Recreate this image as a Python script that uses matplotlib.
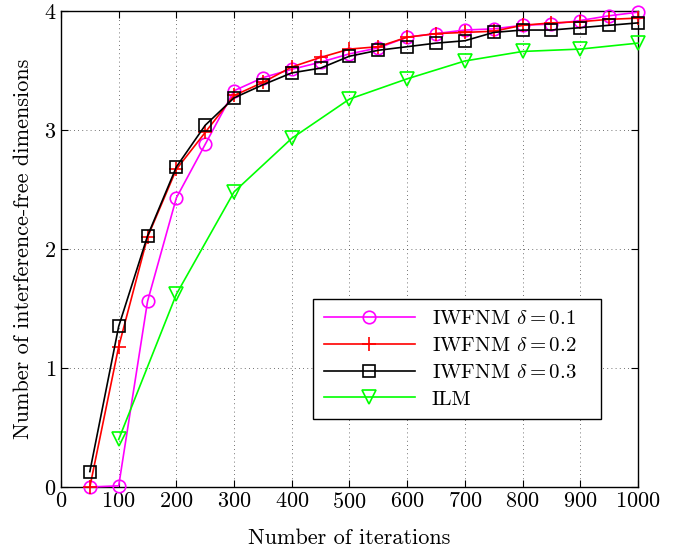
import numpy as np
import matplotlib
matplotlib.use("Agg")
import matplotlib.pyplot as plt

plt.rcParams['font.family'] = ['cmr10', 'DejaVu Serif']
plt.rcParams['mathtext.fontset'] = 'cm'
plt.rcParams['axes.formatter.use_mathtext'] = True

# data
iters = [50, 100, 150, 200, 250, 300, 350, 400, 450, 500,
         550, 600, 650, 700, 750, 800, 850, 900, 950, 1000]
iwfnm_01 = [0.0, 0.01, 1.56, 2.43, 2.88, 3.33, 3.44, 3.51, 3.57, 3.64,
            3.69, 3.78, 3.81, 3.84, 3.85, 3.88, 3.89, 3.92, 3.96, 3.99]
iwfnm_02 = [0.0, 1.18, 2.10, 2.67, 2.98, 3.29, 3.40, 3.53, 3.61, 3.68,
            3.70, 3.78, 3.81, 3.82, 3.83, 3.88, 3.90, 3.91, 3.93, 3.94]
iwfnm_03 = [0.13, 1.35, 2.11, 2.69, 3.04, 3.27, 3.38, 3.48, 3.52, 3.62,
            3.67, 3.70, 3.73, 3.75, 3.82, 3.84, 3.84, 3.86, 3.88, 3.90]
ilm_iters = [100, 200, 300, 400, 500, 600, 700, 800, 900, 1000]
ilm = [0.40, 1.62, 2.48, 2.93, 3.26, 3.43, 3.58, 3.66, 3.68, 3.73]

fig = plt.figure(figsize=(6.83, 5.5), dpi=100)
ax = fig.add_axes([0.0893, 0.1145, 0.8447, 0.8655])

style = dict(lw=1.2, mew=1.2, clip_on=False, zorder=3)
ax.plot(iters, iwfnm_01, color='#ff00ff', marker='o', markersize=9, mfc='none',
        label=r'IWFNM $\delta = 0.1$', **style)
ax.plot(iters, iwfnm_02, color='#ff0000', marker='+', markersize=10,
        label=r'IWFNM $\delta = 0.2$', **style)
ax.plot(iters, iwfnm_03, color='black', marker='s', markersize=8, mfc='none',
        label=r'IWFNM $\delta = 0.3$', **style)
ax.plot(ilm_iters, ilm, color='#00ff00', marker='v', markersize=10, mfc='none',
        label='ILM', **style)

ax.set_xlim(0, 1000)
ax.set_ylim(0, 4)
ax.set_xticks(np.arange(0, 1001, 100))
ax.set_yticks([0, 1, 2, 3, 4])
ax.tick_params(direction='in', top=True, right=True, length=5, labelsize=16)
ax.grid(True, linestyle=(0, (1, 4)), color='#444444', linewidth=0.6)
for s in ax.spines.values():
    s.set_linewidth(1.0)

ax.set_xlabel('Number of iterations', fontsize=16, labelpad=12)
ax.set_ylabel('Number of interference-free dimensions', fontsize=16, labelpad=8)

leg = ax.legend(loc='upper left', bbox_to_anchor=(0.437, 0.395, 0.499, 0.0),
                mode='expand', fontsize=15, fancybox=False, framealpha=1,
                edgecolor='black', handlelength=4.4, handletextpad=0.8,
                labelspacing=0.4, borderpad=0.5, borderaxespad=0)
leg.get_frame().set_linewidth(1.0)

fig.savefig('out.png', dpi=100)
